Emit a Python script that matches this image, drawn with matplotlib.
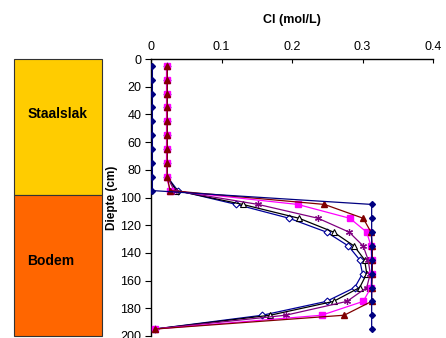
import matplotlib
matplotlib.use("Agg")
import matplotlib.pyplot as plt
from matplotlib.patches import Rectangle

plt.rcParams['font.family'] = ['Liberation Sans', 'DejaVu Sans']

# Sampling depths (cm)
depth = [5, 15, 25, 35, 45, 55, 65, 75, 85, 95,
         105, 115, 125, 135, 145, 155, 165, 175, 185, 195]

# Chloride concentration profiles (mol/L)
navy_filled = [0.002, 0.002, 0.002, 0.002, 0.002, 0.002, 0.002, 0.002, 0.002, 0.002,
               0.313, 0.313, 0.313, 0.313, 0.313, 0.313, 0.313, 0.313, 0.313, 0.313]
blue_open = [0.023, 0.023, 0.023, 0.023, 0.023, 0.023, 0.023, 0.023, 0.023, 0.038,
             0.121, 0.196, 0.249, 0.280, 0.296, 0.300, 0.289, 0.249, 0.158, 0.005]
black_open = [0.023, 0.023, 0.023, 0.023, 0.023, 0.023, 0.023, 0.023, 0.023, 0.036,
              0.130, 0.210, 0.259, 0.288, 0.303, 0.306, 0.296, 0.259, 0.169, 0.005]
purple_star = [0.023, 0.023, 0.023, 0.023, 0.023, 0.023, 0.023, 0.023, 0.023, 0.033,
               0.152, 0.237, 0.281, 0.301, 0.308, 0.311, 0.306, 0.278, 0.191, 0.005]
magenta_sq = [0.022, 0.022, 0.022, 0.022, 0.022, 0.022, 0.022, 0.022, 0.022, 0.027,
              0.208, 0.282, 0.306, 0.312, 0.313, 0.313, 0.312, 0.301, 0.242, 0.005]
darkred_tri = [0.023, 0.023, 0.023, 0.023, 0.023, 0.023, 0.023, 0.023, 0.023, 0.027,
               0.246, 0.301, 0.312, 0.314, 0.314, 0.314, 0.313, 0.313, 0.274, 0.005]

# Soil layers: name, top, bottom (cm)
layer_names = ["Staalslak", "Bodem"]
layer_tops = [0, 98]
layer_bottoms = [98, 200]
layer_colors = ["#FFCC00", "#FF6600"]

x_ticks = [0, 0.1, 0.2, 0.3, 0.4]
y_ticks = [0, 20, 40, 60, 80, 100, 120, 140, 160, 180, 200]

W, H = 446, 338
fig = plt.figure(figsize=(W / 100, H / 100), dpi=100)

# Main profile axes
ax = fig.add_axes([151 / W, 2 / H, 282 / W, 277 / H])
lw = 0.9
ax.plot(blue_open, depth, color="#000099", marker="D", ms=3.5, mfc="white", mew=0.8, lw=lw, zorder=3)
ax.plot(black_open, depth, color="#000000", marker="^", ms=4.5, mfc="white", mew=0.8, lw=lw, zorder=3)
ax.plot(purple_star, depth, color="#800080", marker=(6, 2, 0), ms=5, mew=0.9, lw=lw, zorder=4)
ax.plot(magenta_sq, depth, color="#FF00FF", marker="s", ms=4.5, lw=lw, zorder=5)
ax.plot(darkred_tri, depth, color="#800000", marker="^", ms=4, lw=lw, zorder=6)
ax.plot(navy_filled, depth, color="#000080", marker="D", ms=3.0, lw=lw, zorder=7)

ax.set_xlim(0, 0.4)
ax.set_ylim(200, 0)
ax.xaxis.tick_top()
ax.xaxis.set_label_position("top")
ax.set_xticks(x_ticks)
ax.set_xticklabels(["0", "0.1", "0.2", "0.3", "0.4"])
ax.set_yticks(y_ticks)
ax.tick_params(axis="x", direction="in", length=3, pad=4, labelsize=9, color="black")
ax.tick_params(axis="y", direction="out", length=4, pad=3, labelsize=9, color="black")
for side in ["right", "bottom"]:
    ax.spines[side].set_visible(False)
for side in ["left", "top"]:
    ax.spines[side].set_linewidth(1.0)
ax.set_xlabel("Cl (mol/L)", fontsize=9, fontweight="bold", labelpad=13)
ax.set_ylabel("Diepte (cm)", fontsize=8.5, fontweight="bold", labelpad=2)
ax.patch.set_alpha(0)

# Soil column beside the profile
lax = fig.add_axes([14 / W, 2 / H, 88 / W, 277 / H])
lax.set_xlim(0, 1)
lax.set_ylim(200, 0)
lax.axis("off")
for name, top, bot, col in zip(layer_names, layer_tops, layer_bottoms, layer_colors):
    lax.add_patch(Rectangle((0, top), 1, bot - top, facecolor=col,
                            edgecolor="#333333", lw=0.8, clip_on=False))
lax.text(0.5, 40, layer_names[0], ha="center", va="center",
         fontsize=10, fontweight="bold")
lax.text(0.15, 146, layer_names[1], ha="left", va="center",
         fontsize=10, fontweight="bold")

fig.savefig("out.png", dpi=100)
